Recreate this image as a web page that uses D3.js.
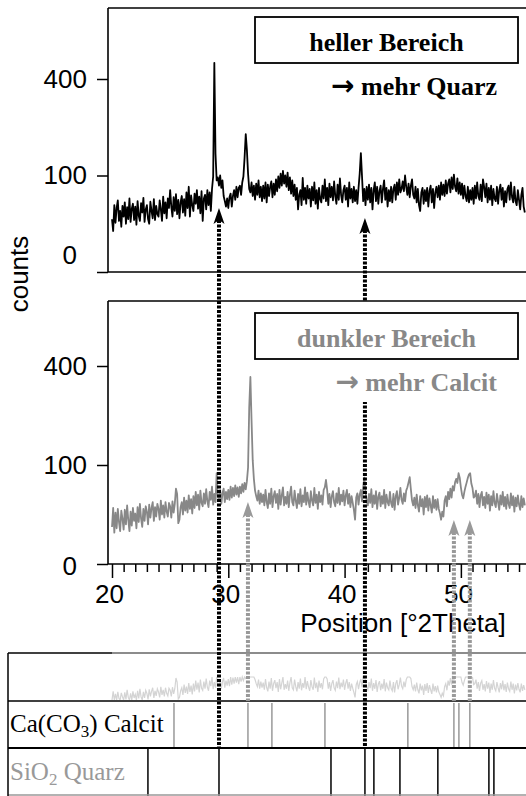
<!DOCTYPE html>
<html>
<head>
<meta charset="utf-8">
<script src="https://cdn.jsdelivr.net/npm/d3@7"></script>
<style>
  body { margin: 0; background: #fff; }
  svg { display: block; }
</style>
</head>
<body>
<div id="chart"></div>
<script>
// scan grid: 20.0 .. 55.5 °2Theta in 0.1 steps
const thetaStart = 20.0, thetaStep = 0.1;

// counts, "heller Bereich" (one row per degree)
const countsHell = [
  30, 18, 48, 26, 44, 55, 28, 40, 22, 47,
  33, 52, 25, 45, 30, 58, 27, 43, 50, 29,
  46, 24, 54, 34, 28, 51, 38, 59, 27, 42,
  48, 30, 25, 53, 40, 31, 57, 29, 47, 36,
  33, 55, 42, 28, 61, 37, 52, 31, 58, 44,
  72, 46, 33, 60, 40, 65, 36, 56, 31, 52,
  62, 38, 57, 34, 68, 44, 78, 33, 63, 48,
  40, 66, 50, 72, 43, 61, 37, 70, 28, 58,
  64, 42, 72, 48, 68, 40, 74, 98, 470, 150,
  90, 96, 80, 100, 76, 90, 62, 54, 46, 58,
  44, 60, 66, 46, 62, 72, 56, 78, 60, 76,
  80, 64, 86, 98, 140, 204, 160, 104, 74, 68,
  86, 62, 80, 56, 84, 64, 90, 60, 78, 54,
  80, 58, 86, 52, 82, 62, 78, 88, 60, 84,
  64, 92, 70, 98, 76, 104, 80, 110, 84, 100,
  78, 106, 72, 96, 66, 90, 62, 82, 56, 76,
  42, 64, 72, 48, 95, 56, 76, 50, 80, 58,
  74, 46, 78, 55, 86, 50, 72, 43, 76, 57,
  52, 80, 58, 92, 54, 76, 48, 84, 60, 78,
  55, 88, 62, 50, 82, 56, 94, 64, 52, 72,
  80, 56, 76, 46, 86, 58, 74, 52, 78, 54,
  72, 50, 76, 104, 152, 98, 54, 74, 48, 78,
  56, 82, 52, 76, 42, 72, 86, 54, 78, 50,
  70, 80, 52, 74, 90, 56, 76, 46, 72, 54,
  78, 52, 74, 82, 56, 86, 64, 92, 68, 74,
  88, 70, 100, 78, 64, 84, 60, 80, 92, 64,
  58, 78, 52, 74, 48, 40, 68, 76, 50, 72,
  54, 76, 46, 70, 80, 52, 74, 44, 68, 78,
  60, 80, 56, 86, 64, 82, 62, 90, 66, 84,
  92, 68, 96, 74, 102, 78, 70, 94, 66, 86,
  64, 84, 58, 80, 62, 54, 78, 52, 72, 56,
  76, 50, 80, 58, 86, 62, 56, 82, 54, 92,
  78, 60, 84, 52, 76, 56, 80, 48, 74, 58,
  54, 78, 50, 72, 82, 56, 76, 46, 70, 52,
  74, 80, 56, 86, 60, 52, 78, 54, 48, 72,
  56, 42, 64, 76, 46, 38
];

// counts, "dunkler Bereich"
const countsDunkel = [
  14, 32, 10, 27, 13, 31, 18, 11, 29, 21,
  12, 30, 16, 35, 20, 11, 28, 15, 32, 19,
  26, 13, 33, 18, 37, 21, 14, 31, 19, 34,
  28, 16, 36, 22, 32, 39, 19, 33, 23, 37,
  31, 20, 41, 25, 35, 22, 39, 28, 23, 38,
  34, 22, 40, 27, 37, 58, 50, 17, 20, 33,
  39, 25, 45, 29, 41, 27, 48, 31, 43, 26,
  47, 32, 53, 35, 49, 30, 55, 38, 34, 51,
  37, 57, 40, 33, 53, 42, 61, 36, 50, 39,
  84, 47, 41, 56, 37, 51, 58, 39, 53, 43,
  56, 42, 61, 45, 59, 47, 63, 49, 60, 46,
  61, 51, 65, 53, 67, 57, 70, 95, 250, 357,
  210, 110, 74, 55, 47, 41, 55, 37, 51, 39,
  49, 35, 56, 39, 32, 51, 37, 58, 33, 47,
  54, 38, 50, 31, 56, 36, 48, 60, 35, 46,
  37, 53, 33, 49, 61, 39, 35, 55, 41, 32,
  50, 37, 57, 34, 48, 39, 60, 36, 52, 40,
  33, 54, 41, 35, 59, 38, 49, 31, 53, 39,
  48, 36, 56, 60, 72, 56, 37, 50, 33, 47,
  54, 39, 34, 51, 38, 59, 36, 49, 40, 55,
  35, 48, 56, 37, 50, 33, 47, 38, 30, 20,
  45, 51, 36, 49, 56, 40, 60, 76, 53, 41,
  35, 50, 38, 57, 33, 48, 37, 54, 31, 46,
  52, 34, 47, 37, 56, 32, 49, 39, 35, 53,
  38, 33, 50, 30, 47, 54, 36, 45, 59, 42,
  37, 51, 40, 55, 60, 68, 77, 57, 41, 35,
  45, 32, 49, 35, 28, 47, 34, 43, 25, 46,
  33, 48, 29, 44, 35, 27, 47, 32, 42, 30,
  43, 31, 26, 20, 28, 23, 41, 47, 34, 53,
  43, 58, 45, 62, 55, 68, 74, 67, 84, 76,
  60, 49, 44, 53, 61, 68, 76, 82, 84, 66,
  59, 45, 47, 55, 37, 50, 33, 48, 53, 35,
  46, 32, 52, 37, 49, 29, 47, 35, 54, 38,
  33, 50, 39, 30, 48, 36, 53, 34, 46, 31,
  49, 37, 32, 51, 35, 47, 28, 45, 34, 48,
  36, 30, 47, 33, 44, 35
];

// reference pattern line positions (°2Theta)
const calcitLines = [25.33, 31.69, 33.75, 38.31, 45.44, 49.40, 49.83, 50.77];
const quarzLines = [23.09, 29.20, 38.83, 41.75, 42.52, 44.76, 48.02, 52.41, 52.84];

// ticks
const yTicks = [0, 100, 400];
const xMajor = [20, 30, 40, 50];
const xMinor = [21, 22, 23, 24, 25, 26, 27, 28, 29, 31, 32, 33, 34, 35, 36, 37, 38, 39,
  41, 42, 43, 44, 45, 46, 47, 48, 49, 51, 52, 53, 54, 55];

// arrows: quartz peaks marked in the light area, calcite peaks in the dark area
const arrowsHell = [29.20, 41.75];
const arrowsDunkel = [31.69, 49.40, 50.77];

const width = 526, height = 796;
const sans = '"Liberation Sans", Arial, sans-serif';
const serif = '"Liberation Serif", "Times New Roman", serif';

const svg = d3.select("#chart")
  .append("svg")
  .attr("width", width)
  .attr("height", height);

const theta = countsHell.map((d, i) => thetaStart + i * thetaStep);

const x = d3.scaleLinear().domain([20, 55.6]).range([112, 526]);
const yTop = d3.scaleSqrt().domain([0, 400]).range([272, 79]);
const yBot = d3.scaleSqrt().domain([0, 400]).range([564, 366]);
const yStrip = d3.scaleLinear().domain([15, 60]).range([700, 677]).clamp(true);

// panel frames
function frame(top, bottom) {
  const g = svg.append("g").attr("stroke", "#000").attr("stroke-width", 1.6);
  g.append("line").attr("x1", 108).attr("x2", width).attr("y1", top).attr("y2", top);
  g.append("line").attr("x1", 108).attr("x2", 108).attr("y1", top).attr("y2", bottom);
  g.append("line").attr("x1", 108).attr("x2", width).attr("y1", bottom).attr("y2", bottom);
}
frame(8, 272);
frame(301, 564);

// y axes
function yAxis(scale, zeroShift) {
  const g = svg.append("g")
    .attr("transform", "translate(108,0)")
    .call(d3.axisLeft(scale).tickValues(yTicks).tickSize(11).tickPadding(10))
    .call(g => g.select(".domain").remove());
  g.selectAll("line").attr("stroke-width", 1.5);
  g.selectAll("text")
    .attr("font-family", sans)
    .attr("font-size", 26)
    .attr("fill", "#000");
  g.selectAll(".tick").filter(d => d === 0).select("text")
    .attr("dx", -10)
    .attr("y", zeroShift);
}
yAxis(yTop, -17);
yAxis(yBot, 2);

// x axis of the lower panel
const xMinorAxis = svg.append("g")
  .attr("transform", "translate(0,564)")
  .call(d3.axisBottom(x).tickValues(xMinor).tickSize(8).tickFormat(""))
  .call(g => g.select(".domain").remove());
xMinorAxis.selectAll("line").attr("stroke-width", 1.5);

const xMajorAxis = svg.append("g")
  .attr("transform", "translate(0,564)")
  .call(d3.axisBottom(x).tickValues(xMajor).tickSize(14).tickPadding(7))
  .call(g => g.select(".domain").remove());
xMajorAxis.selectAll("line").attr("stroke-width", 1.5);
xMajorAxis.selectAll("text")
  .attr("font-family", sans)
  .attr("font-size", 26)
  .attr("dx", -3)
  .attr("fill", "#000");

svg.append("text")
  .attr("x", 403)
  .attr("y", 632)
  .attr("text-anchor", "middle")
  .attr("font-family", sans)
  .attr("font-size", 26)
  .text("Position [°2Theta]");

svg.append("text")
  .attr("transform", "translate(28,274) rotate(-90)")
  .attr("text-anchor", "middle")
  .attr("font-family", sans)
  .attr("font-size", 26)
  .text("counts");

// spectra
const lineTop = d3.line().x((d, i) => x(theta[i])).y(d => yTop(d));
const lineBot = d3.line().x((d, i) => x(theta[i])).y(d => yBot(d));
const lineStrip = d3.line().x((d, i) => x(theta[i])).y(d => yStrip(d));

svg.append("path")
  .datum(countsHell)
  .attr("d", lineTop)
  .attr("fill", "none")
  .attr("stroke", "#000")
  .attr("stroke-width", 1.8)
  .attr("stroke-linejoin", "round");

svg.append("path")
  .datum(countsDunkel)
  .attr("d", lineBot)
  .attr("fill", "none")
  .attr("stroke", "#888")
  .attr("stroke-width", 1.8)
  .attr("stroke-linejoin", "round");

// reference pattern table
const table = svg.append("g");

const stripClip = svg.append("clipPath").attr("id", "strip");
stripClip.append("rect").attr("x", 108).attr("y", 654).attr("width", 420).attr("height", 46);

table.append("path")
  .datum(countsDunkel)
  .attr("d", lineStrip)
  .attr("clip-path", "url(#strip)")
  .attr("fill", "none")
  .attr("stroke", "#d4d4d4")
  .attr("stroke-width", 1.2);

table.selectAll(".calcit")
  .data(calcitLines)
  .enter().append("line")
  .attr("class", "calcit")
  .attr("x1", d => x(d)).attr("x2", d => x(d))
  .attr("y1", 703).attr("y2", 748)
  .attr("stroke", "#999")
  .attr("stroke-width", 1.5);

table.selectAll(".quarz")
  .data(quarzLines)
  .enter().append("line")
  .attr("class", "quarz")
  .attr("x1", d => x(d)).attr("x2", d => x(d))
  .attr("y1", 748).attr("y2", 796)
  .attr("stroke", "#000")
  .attr("stroke-width", 1.5);

table.append("line").attr("x1", 8).attr("x2", 112).attr("y1", 653).attr("y2", 653)
  .attr("stroke", "#000").attr("stroke-width", 1.5);
table.append("line").attr("x1", 112).attr("x2", width).attr("y1", 653).attr("y2", 653)
  .attr("stroke", "#666").attr("stroke-width", 1.5);
table.append("line").attr("x1", 8).attr("x2", width).attr("y1", 701).attr("y2", 701)
  .attr("stroke", "#000").attr("stroke-width", 1.5);
table.append("line").attr("x1", 8).attr("x2", width).attr("y1", 748).attr("y2", 748)
  .attr("stroke", "#000").attr("stroke-width", 2);
table.append("line").attr("x1", 8).attr("x2", width).attr("y1", 795).attr("y2", 795)
  .attr("stroke", "#999").attr("stroke-width", 1.5);
table.append("line").attr("x1", 8).attr("x2", 8).attr("y1", 653).attr("y2", 796)
  .attr("stroke", "#000").attr("stroke-width", 1.5);

const calcitLabel = table.append("text")
  .attr("x", 10).attr("y", 732)
  .attr("font-family", serif)
  .attr("font-size", 25)
  .attr("fill", "#000");
calcitLabel.append("tspan").text("Ca(CO");
calcitLabel.append("tspan").attr("dy", 5).attr("font-size", 17).text("3");
calcitLabel.append("tspan").attr("dy", -5).text(") Calcit");

const quarzLabel = table.append("text")
  .attr("x", 10).attr("y", 780)
  .attr("font-family", serif)
  .attr("font-size", 25)
  .attr("fill", "#999");
quarzLabel.append("tspan").text("SiO");
quarzLabel.append("tspan").attr("dy", 5).attr("font-size", 17).text("2");
quarzLabel.append("tspan").attr("dy", -5).text(" Quarz");

// dotted arrows from the peaks down to the reference lines
function arrow(theta0, tipY, endY, color) {
  const cx = x(theta0);
  svg.append("line")
    .attr("x1", cx).attr("x2", cx)
    .attr("y1", tipY + 12).attr("y2", endY)
    .attr("stroke", color)
    .attr("stroke-width", 4)
    .attr("stroke-dasharray", "3,1.5");
  svg.append("path")
    .attr("d", `M${cx},${tipY} L${cx + 5.5},${tipY + 16} L${cx},${tipY + 12} L${cx - 5.5},${tipY + 16} Z`)
    .attr("fill", color);
}
arrow(arrowsHell[0], 208, 748, "#000");
arrow(arrowsHell[1], 218, 748, "#000");
arrow(arrowsDunkel[0], 502, 701, "#999");
arrow(arrowsDunkel[1], 520, 701, "#999");
arrow(arrowsDunkel[2], 520, 701, "#999");

// label boxes (drawn last, their white ground hides the dotted line)
function labelBox(top, title, sub, color, subBaseline) {
  svg.append("rect")
    .attr("x", 255).attr("y", top).attr("width", 263).attr("height", 46)
    .attr("fill", "#fff")
    .attr("stroke", "#000")
    .attr("stroke-width", 1.8);
  svg.append("text")
    .attr("x", 386.5).attr("y", top + 34)
    .attr("text-anchor", "middle")
    .attr("font-family", serif)
    .attr("font-weight", "bold")
    .attr("font-size", 26)
    .attr("fill", color)
    .text(title);
  const t = svg.append("text")
    .attr("x", 497).attr("y", subBaseline)
    .attr("text-anchor", "end")
    .attr("font-family", serif)
    .attr("font-weight", "bold")
    .attr("font-size", 26)
    .attr("fill", color);
  t.append("tspan").attr("font-family", '"DejaVu Sans", sans-serif').attr("font-size", 28).text("\u2192");
  t.append("tspan").text(" " + sub);
}

svg.append("rect")
  .attr("x", 255).attr("y", 302).attr("width", 263).attr("height", 12)
  .attr("fill", "#fff");
svg.append("rect")
  .attr("x", 300).attr("y", 358).attr("width", 210).attr("height", 44)
  .attr("fill", "#fff");

labelBox(17, "heller Bereich", "mehr Quarz", "#000", 95);
labelBox(313, "dunkler Bereich", "mehr Calcit", "#888", 391);
</script>
</body>
</html>
